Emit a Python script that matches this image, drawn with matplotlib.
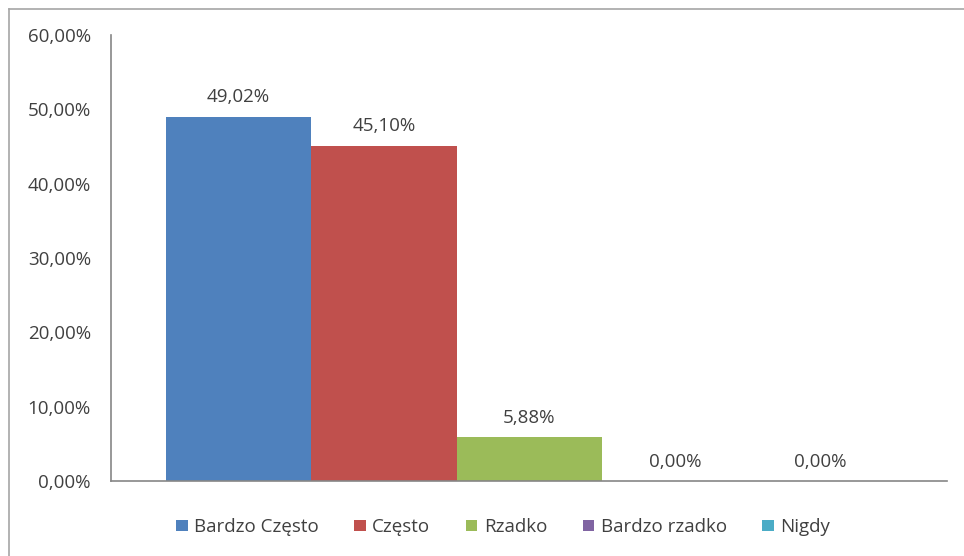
import matplotlib.pyplot as plt
from matplotlib.lines import Line2D
from matplotlib.ticker import FuncFormatter

# answers to the survey question, share of respondents
series = ["Bardzo Często", "Często", "Rzadko", "Bardzo rzadko", "Nigdy"]
shares = [49.02, 45.10, 5.88, 0.00, 0.00]
colors = ["#4F81BD", "#C0504D", "#9BBB59", "#8064A2", "#4BACC6"]
y_ticks = [0, 10, 20, 30, 40, 50, 60]

text_color = "#404040"
fsize = 13.5
plt.rcParams["font.family"] = ["Open Sans", "DejaVu Sans"]


def pl_percent(v, pos=None):
    return ("%.2f%%" % v).replace(".", ",")


fig = plt.figure(figsize=(9.64, 5.56), dpi=100)
ax = fig.add_axes([0.1151, 0.1349, 0.8673, 0.8021])

for i, (name, val, col) in enumerate(zip(series, shares, colors)):
    ax.bar(i, val, width=1.0, color=col, label=name)
    ax.text(i, val + 1.4, pl_percent(val), ha="center", va="bottom",
            fontsize=fsize, color=text_color)

ax.set_xlim(-0.5 - 0.375, len(series) - 0.5 + 0.37)
ax.set_ylim(0, 60)
ax.set_yticks(y_ticks)
ax.yaxis.set_major_formatter(FuncFormatter(pl_percent))
ax.tick_params(axis="y", length=0, pad=14.5, labelsize=fsize, labelcolor=text_color)
ax.set_xticks([])

for s in ["top", "right"]:
    ax.spines[s].set_visible(False)
for s in ["left", "bottom"]:
    ax.spines[s].set_color("#868686")
    ax.spines[s].set_linewidth(1.2)

leg = ax.legend(loc="center", bbox_to_anchor=(0.522, 0.052), bbox_transform=fig.transFigure,
                ncol=5, frameon=False, fontsize=fsize, handlelength=0.6, handleheight=0.6,
                handletextpad=0.35, columnspacing=1.9)
for t in leg.get_texts():
    t.set_color(text_color)

# outer chart frame
fig.add_artist(Line2D([9 / 964, 1.0], [1 - 9 / 556, 1 - 9 / 556], transform=fig.transFigure,
                      color="#a6a6a6", lw=1.2))
fig.add_artist(Line2D([9 / 964, 9 / 964], [0.0, 1 - 9 / 556], transform=fig.transFigure,
                      color="#a6a6a6", lw=1.2))

fig.savefig("out.png", dpi=100)
